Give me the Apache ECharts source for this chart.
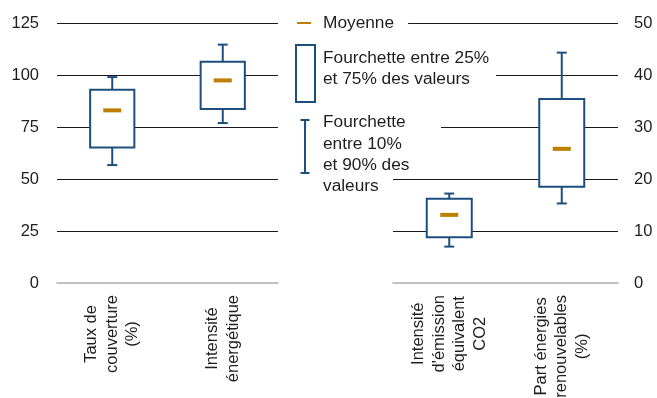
<!DOCTYPE html>
<html>
<head>
<meta charset="utf-8">
<script src="https://cdn.jsdelivr.net/npm/echarts@6/dist/echarts.min.js"></script>
<style>
  html, body { margin: 0; padding: 0; background: #fff; }
  #chart { width: 657px; height: 398px; }
</style>
</head>
<body>
<div id="chart"></div>
<script>
// Indicators read against the left-hand scale
const leftCategories = ['Taux de\ncouverture\n(%)', 'Intensité\nénergétique'];
const leftP10  = [56.7, 76.9];
const leftP25  = [65.2, 83.6];
const leftP75  = [92.9, 106.4];
const leftP90  = [99.0, 114.6];
const leftMean = [83.0, 97.4];

// Indicators read against the right-hand scale
const rightCategories = ["Intensité\nd'émission\néquivalent\nCO2", 'Part énergies\nrenouvelables\n(%)'];
const rightP10  = [7.0, 15.3];
const rightP25  = [8.8, 18.5];
const rightP75  = [16.2, 35.4];
const rightP90  = [17.2, 44.3];
const rightMean = [13.1, 25.8];

// Axis scales
const leftScale  = { min: 0, max: 125, interval: 25 };
const rightScale = { min: 0, max: 50, interval: 10 };

// Legend texts
const legendMean    = 'Moyenne';
const legendBox     = ['Fourchette entre 25%', 'et 75% des valeurs'];
const legendWhisker = ['Fourchette', 'entre 10%', 'et 90% des', 'valeurs'];

const BLUE = '#1d4f7d';
const ORANGE = '#bd7f00';
const TEXT = '#1e1e1e';
const FONT = '"Liberation Sans", Arial, Helvetica, sans-serif';

function rows(p10, p25, p75, p90, mean) {
  return p10.map((v, i) => [i, v, p25[i], p75[i], p90[i], mean[i]]);
}

// Box from the 25%-75% range, whiskers to 10% and 90%, dash at the mean
function renderBox(params, api) {
  const i = api.value(0);
  const lo = api.coord([i, api.value(1)]);
  const q1 = api.coord([i, api.value(2)]);
  const q3 = api.coord([i, api.value(3)]);
  const hi = api.coord([i, api.value(4)]);
  const mn = api.coord([i, api.value(5)]);
  const band = api.size([1, 0])[0];
  const bw = band * 0.4;
  const x = q1[0];
  const cap = 5;
  const stroke = { stroke: BLUE, lineWidth: 2 };
  return {
    type: 'group',
    children: [
      { type: 'line', shape: { x1: x, y1: q3[1], x2: x, y2: hi[1] }, style: stroke },
      { type: 'line', shape: { x1: x - cap, y1: hi[1], x2: x + cap, y2: hi[1] }, style: stroke },
      { type: 'line', shape: { x1: x, y1: q1[1], x2: x, y2: lo[1] }, style: stroke },
      { type: 'line', shape: { x1: x - cap, y1: lo[1], x2: x + cap, y2: lo[1] }, style: stroke },
      { type: 'rect', shape: { x: x - bw / 2, y: q3[1], width: bw, height: q1[1] - q3[1] },
        style: { fill: '#fff', stroke: BLUE, lineWidth: 2 } },
      { type: 'rect', shape: { x: x - 9, y: mn[1] - 2, width: 18, height: 4 },
        style: { fill: ORANGE } }
    ]
  };
}

function categoryAxis(gridIndex, data) {
  return {
    type: 'category',
    gridIndex: gridIndex,
    data: data,
    z: 3,
    axisLine: { lineStyle: { color: '#adadad', width: 1.5 } },
    axisTick: { length: 5, lineStyle: { color: '#adadad', width: 1.5 } },
    splitLine: { show: false },
    axisLabel: {
      interval: 0,
      rotate: 90,
      margin: 12,
      color: TEXT,
      fontFamily: FONT,
      fontSize: 16.5,
      lineHeight: 20.5,
      formatter: v => v.split('\n').map(s => '{c|' + s + '}').join('\n'),
      rich: { c: { align: 'center', fontSize: 16.5, fontFamily: FONT, color: TEXT, lineHeight: 20.5 } }
    }
  };
}

function valueAxis(gridIndex, position, scale, margin) {
  return {
    type: 'value',
    gridIndex: gridIndex,
    position: position,
    min: scale.min,
    max: scale.max,
    interval: scale.interval,
    axisLine: { show: false },
    axisTick: { show: false },
    axisLabel: { color: TEXT, fontFamily: FONT, fontSize: 16.5, margin: margin },
    splitLine: { showMinLine: false, lineStyle: { color: '#1a1a1a', width: 1 } }
  };
}

const textBase = { fill: TEXT, fontFamily: FONT, fontSize: 17.3, lineHeight: 21 };

const option = {
  animation: false,
  backgroundColor: '#fff',
  grid: [
    { left: 57, top: 23, width: 221, height: 260, outerBoundsMode: 'none', containLabel: false },
    { left: 393, top: 23, width: 225, height: 260, outerBoundsMode: 'none', containLabel: false }
  ],
  xAxis: [categoryAxis(0, leftCategories), categoryAxis(1, rightCategories)],
  yAxis: [valueAxis(0, 'left', leftScale, 18), valueAxis(1, 'right', rightScale, 16)],
  series: [
    { type: 'custom', xAxisIndex: 0, yAxisIndex: 0, renderItem: renderBox,
      encode: { x: 0, y: [1, 2, 3, 4, 5] },
      data: rows(leftP10, leftP25, leftP75, leftP90, leftMean) },
    { type: 'custom', xAxisIndex: 1, yAxisIndex: 1, renderItem: renderBox,
      encode: { x: 0, y: [1, 2, 3, 4, 5] },
      data: rows(rightP10, rightP25, rightP75, rightP90, rightMean) }
  ],
  graphic: [
    // mean marker
    { type: 'line', z: 100, shape: { x1: 297, y1: 23, x2: 311, y2: 23 },
      style: { stroke: ORANGE, lineWidth: 2 } },
    { type: 'text', z: 100, x: 323, y: 23,
      style: Object.assign({}, textBase, {
        text: legendMean, verticalAlign: 'middle',
        backgroundColor: '#fff', padding: [0, 14, 0, 0]
      }) },
    // interquartile box
    { type: 'rect', z: 100, shape: { x: 296, y: 45, width: 19, height: 57 },
      style: { fill: '#fff', stroke: BLUE, lineWidth: 2 } },
    { type: 'text', z: 100, x: 323, y: 47.5,
      style: Object.assign({}, textBase, {
        text: legendBox[0] + '\n{w|' + legendBox[1] + '}',
        rich: { w: Object.assign({}, textBase, { backgroundColor: '#fff', width: 173 }) }
      }) },
    // 10%-90% whisker
    { type: 'line', z: 100, shape: { x1: 305, y1: 120, x2: 305, y2: 173 },
      style: { stroke: BLUE, lineWidth: 2 } },
    { type: 'line', z: 100, shape: { x1: 300.5, y1: 120, x2: 309.5, y2: 120 },
      style: { stroke: BLUE, lineWidth: 2 } },
    { type: 'line', z: 100, shape: { x1: 300.5, y1: 173, x2: 309.5, y2: 173 },
      style: { stroke: BLUE, lineWidth: 2 } },
    { type: 'text', z: 100, x: 323, y: 112,
      style: Object.assign({}, textBase, {
        lineHeight: 21.3,
        text: '{w|' + legendWhisker[0] + '}\n' + legendWhisker.slice(1).join('\n'),
        rich: { w: Object.assign({}, textBase, { lineHeight: 21.3, backgroundColor: '#fff', width: 118 }) }
      }) }
  ]
};

const chart = echarts.init(document.getElementById('chart'), null, { renderer: 'canvas' });
chart.setOption(option);
</script>
</body>
</html>
